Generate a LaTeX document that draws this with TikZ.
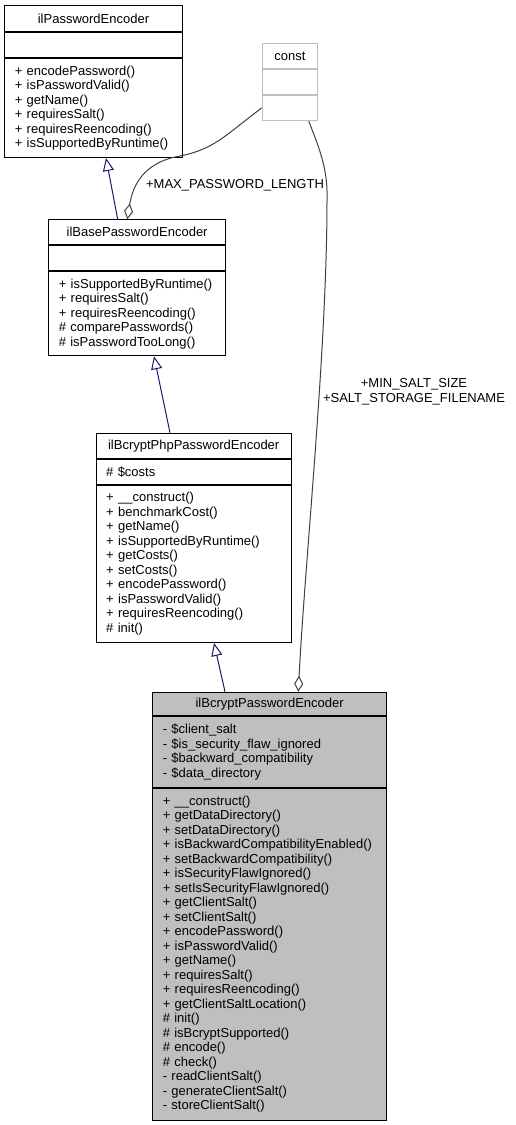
\documentclass[tikz,border=0pt]{standalone}
\usepackage{fontspec}
\setmainfont{Liberation Sans}
\usetikzlibrary{arrows.meta}
\definecolor{navyline}{HTML}{191970}
\definecolor{edgegray}{HTML}{404040}
\definecolor{constgray}{HTML}{BFBFBF}
\definecolor{focusfill}{HTML}{BFBFBF}

\begin{document}
\begin{tikzpicture}[x=1pt, y=-1pt, line width=1pt,
  font=\fontsize{13}{14.5}\selectfont,
  classtitle/.style={draw, anchor=north west, inner sep=0pt, align=center},
  classpart/.style={draw, anchor=north west, inner xsep=10pt, inner ysep=0pt, align=left},
  constbox/.style={classtitle, draw=constgray},
  inherit/.style={draw=navyline, -{Triangle[open, length=13pt, width=11pt]}},
  aggreg/.style={draw=edgegray, -{Diamond[open, length=16pt, width=9pt]}}]
\useasboundingbox (0,0) rectangle (515,1125);

\node[classtitle, minimum width=177.4pt, minimum height=26pt] (pe-title) at (4.3,5) {ilPasswordEncoder};
\node[classtitle, minimum width=177.4pt, minimum height=25pt] (pe-attr) at (pe-title.south west) {};
\node[classpart, minimum width=177.4pt, text width=157.4pt, minimum height=99pt] (pe-ops) at (pe-attr.south west)
  {+ encodePassword()\\+ isPasswordValid()\\+ getName()\\+ requiresSalt()\\+ requiresReencoding()\\+ isSupportedByRuntime()};

\node[constbox, minimum width=55.6pt, minimum height=25.6pt] (cst-title) at (261.7,42.7) {const};
\node[constbox, minimum width=55.6pt, minimum height=24.4pt] (cst-attr) at (cst-title.south west) {};
\node[constbox, minimum width=55.6pt, minimum height=25.6pt] (cst-ops) at (cst-attr.south west) {};

\node[classtitle, minimum width=176.7pt, minimum height=25pt] (base-title) at (48.3,219.3) {ilBasePasswordEncoder};
\node[classtitle, minimum width=176.7pt, minimum height=25pt] (base-attr) at (base-title.south west) {};
\node[classpart, minimum width=176.7pt, text width=156.7pt, minimum height=84pt] (base-ops) at (base-attr.south west)
  {+ isSupportedByRuntime()\\+ requiresSalt()\\+ requiresReencoding()\\\# comparePasswords()\\\# isPasswordTooLong()};

\node[classtitle, minimum width=195pt, minimum height=25pt] (php-title) at (95.7,432.7) {ilBcryptPhpPasswordEncoder};
\node[classpart, minimum width=195pt, text width=175pt, minimum height=25pt] (php-attr) at (php-title.south west) {\# \$costs};
\node[classpart, minimum width=195pt, text width=175pt, minimum height=157.3pt] (php-ops) at (php-attr.south west)
  {+ \_\_construct()\\+ benchmarkCost()\\+ getName()\\+ isSupportedByRuntime()\\+ getCosts()\\+ setCosts()\\
   + encodePassword()\\+ isPasswordValid()\\+ requiresReencoding()\\\# init()};

\node[classtitle, fill=focusfill, minimum width=233.7pt, minimum height=23.3pt] (bcr-title) at (152.3,691.7) {ilBcryptPasswordEncoder};
\node[classpart, fill=focusfill, minimum width=233.7pt, text width=213.7pt, minimum height=70.7pt] (bcr-attr) at (bcr-title.south west)
  {- \$client\_salt\\- \$is\_security\_flaw\_ignored\\- \$backward\_compatibility\\- \$data\_directory};
\node[classpart, fill=focusfill, minimum width=233.7pt, text width=213.7pt, minimum height=332.3pt] (bcr-ops) at (bcr-attr.south west)
  {+ \_\_construct()\\+ getDataDirectory()\\+ setDataDirectory()\\+ isBackwardCompatibilityEnabled()\\
   + setBackwardCompatibility()\\+ isSecurityFlawIgnored()\\+ setIsSecurityFlawIgnored()\\+ getClientSalt()\\
   + setClientSalt()\\+ encodePassword()\\+ isPasswordValid()\\+ getName()\\+ requiresSalt()\\
   + requiresReencoding()\\+ getClientSaltLocation()\\\# init()\\\# isBcryptSupported()\\\# encode()\\
   \# check()\\- readClientSalt()\\- generateClientSalt()\\- storeClientSalt()};

\draw[inherit] ([xshift=69.4pt]base-title.north west) -- ([xshift=101.7pt]pe-ops.south west);
\draw[inherit] ([xshift=74.3pt]php-title.north west) -- ([xshift=105.7pt]base-ops.south west);
\draw[inherit] ([xshift=72.7pt]bcr-title.north west) -- ([xshift=118.3pt]php-ops.south west);

\draw[aggreg] (cst-ops.west) .. controls (225,135) and (215,150) .. (175,157)
  .. controls (140,165) and (132,190) .. ([xshift=79pt]base-title.north west);
\draw[aggreg] ([xshift=18.8pt]cst-ops.south) .. controls (320,150) and (328,170) .. (327,200)
  .. controls (327,350) and (305,560) .. ([xshift=146pt]bcr-title.north west);

\node (lbl-max) at (235,185) {+MAX\_PASSWORD\_LENGTH};
\node[align=center] (lbl-salt) at (414,391.6) {+MIN\_SALT\_SIZE\\+SALT\_STORAGE\_FILENAME};
\end{tikzpicture}
\end{document}
